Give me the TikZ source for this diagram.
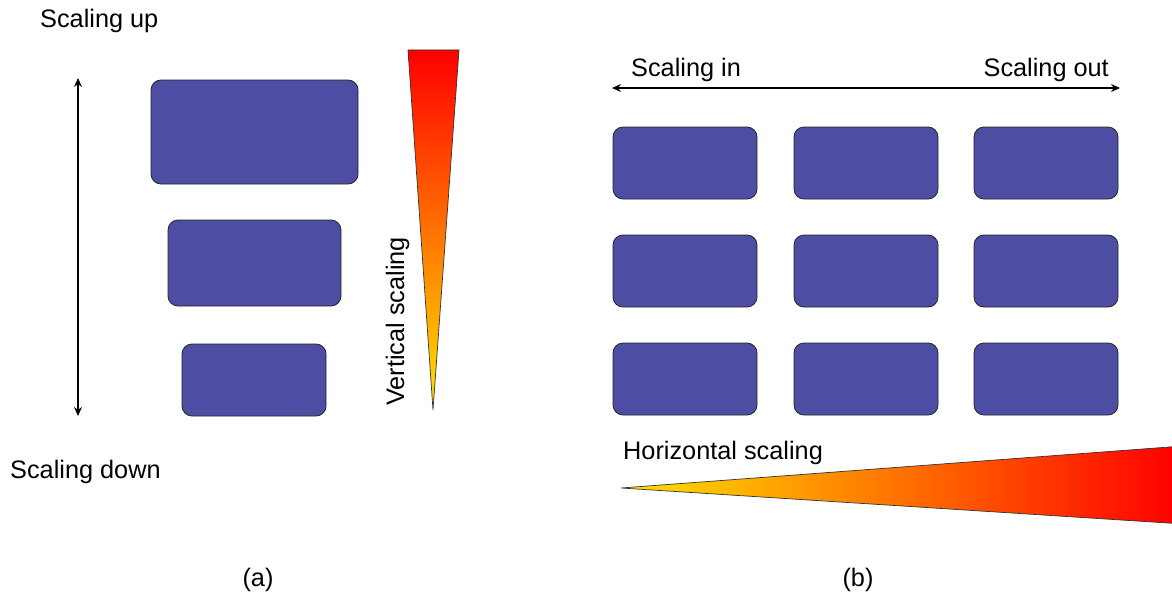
\documentclass[tikz,border=0pt]{standalone}
\usepackage{fontspec}
\setmainfont{Liberation Sans}
\usetikzlibrary{arrows.meta}
\definecolor{boxblue}{RGB}{77,77,163}
\definecolor{gold}{RGB}{255,228,0}
\begin{document}
\begin{tikzpicture}[x=1pt,y=-1pt,
  blk/.style 2 args={draw=black!85, line width=0.8pt, fill=boxblue,
    rounded corners=10pt, inner sep=0pt, minimum width=#1, minimum height=#2},
  lbl/.style={inner sep=0pt, font=\fontsize{25.3}{30}\selectfont},
  dbl/.style={line width=1.3pt, {Stealth[length=9pt,width=8pt,inset=3pt]}-{Stealth[length=9pt,width=8pt,inset=3pt]}},
  wedge/.style={draw=black!80, line width=0.7pt}]
\useasboundingbox (0,0) rectangle (1172,594);

% (a) vertical scaling
\node[lbl, anchor=base west] (up) at (40,28) {Scaling up};
\node[lbl, anchor=base west] (down) at (10,478) {Scaling down};
\coordinate (vtop) at (78,78);
\coordinate (vbot) at (78,416);
\draw[dbl] (vtop) -- (vbot);

\node[blk={207pt}{104pt}] (a1) at (254.5,132) {};
\node[blk={173pt}{86pt}] (a2) at (254.5,263) {};
\node[blk={144pt}{72pt}] (a3) at (254,380) {};

\draw[wedge, top color=red, bottom color=gold]
  (408,50) -- (459,50) -- (433,410) -- cycle;
\node[lbl, rotate=90, anchor=base west] (vlab) at (404,406) {Vertical scaling};

\node[lbl, anchor=base] (capa) at (258,586) {(a)};

% (b) horizontal scaling
\coordinate (hleft) at (612,88);
\coordinate (hright) at (1120,88);
\draw[dbl] (hleft) -- (hright);
\node[lbl, anchor=base west] (in) at (631,77) {Scaling in};
\node[lbl, anchor=base east] (out) at (1109,77) {Scaling out};

\foreach \r/\y in {1/163,2/271,3/379}{
  \foreach \c/\x in {1/685,2/866,3/1046}{
    \node[blk={144pt}{72pt}] (b\r\c) at (\x,\y) {};
  }
}

\node[lbl, anchor=base west] (hlab) at (623,459) {Horizontal scaling};
\draw[wedge, left color=gold, right color=red]
  (621,488) -- (1176,446.5) -- (1176,523.5) -- cycle;

\node[lbl, anchor=base] (capb) at (858,586) {(b)};
\end{tikzpicture}
\end{document}
